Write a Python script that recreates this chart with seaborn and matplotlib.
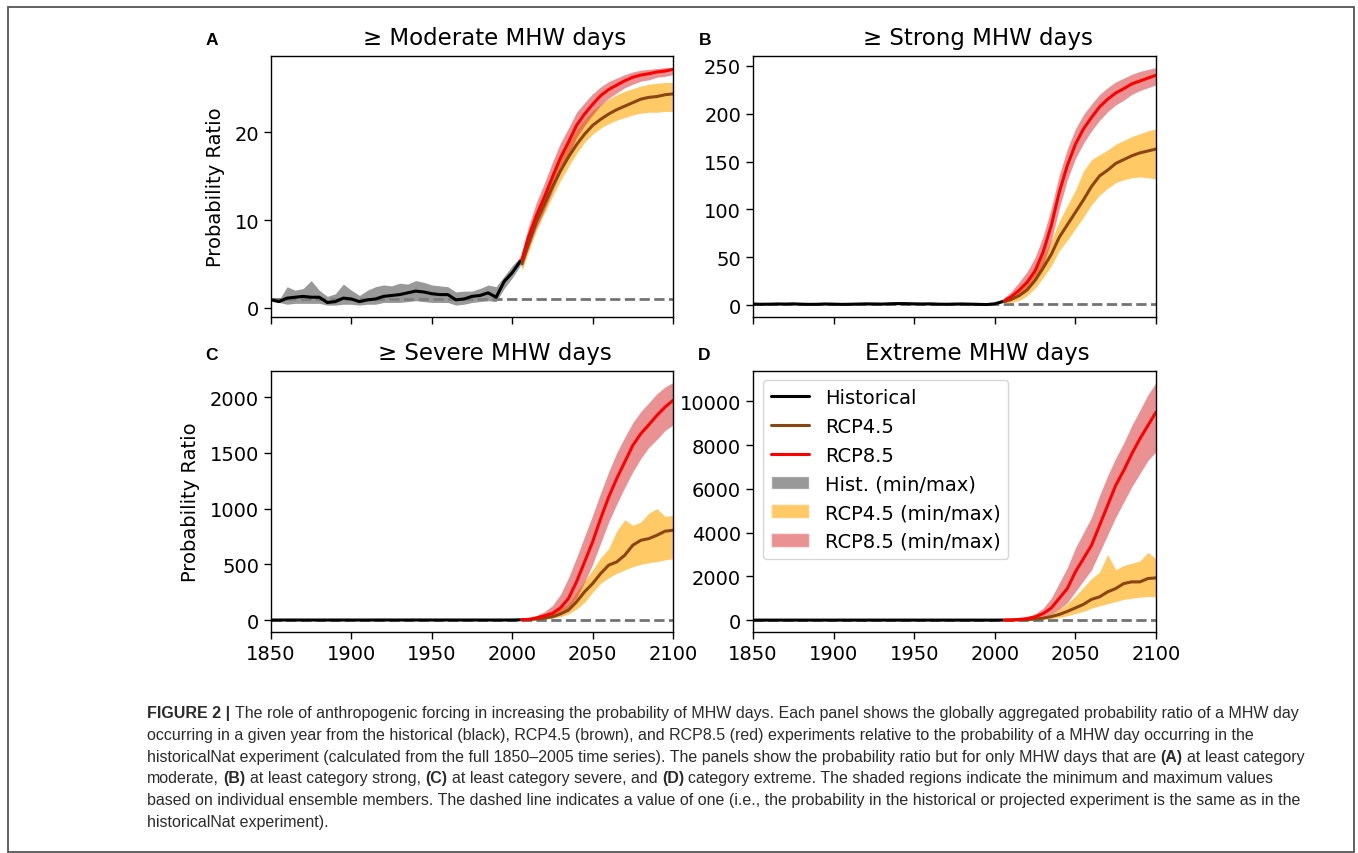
import matplotlib
matplotlib.use('Agg')
import matplotlib.pyplot as plt
from matplotlib.lines import Line2D
from matplotlib.patches import Patch, Rectangle
import seaborn as sns

# ---- data ----
hist_years = [1850, 1855, 1860, 1865, 1870, 1875, 1880, 1885, 1890, 1895, 1900,
              1905, 1910, 1915, 1920, 1925, 1930, 1935, 1940, 1945, 1950, 1955,
              1960, 1965, 1970, 1975, 1980, 1985, 1990, 1995, 2000, 2005]
rcp_years = [2006, 2010, 2015, 2020, 2025, 2030, 2035, 2040, 2045, 2050,
             2055, 2060, 2065, 2070, 2075, 2080, 2085, 2090, 2095, 2100]

# (A) >= moderate
mod_hist = [0.9, 0.7, 1.1, 1.2, 1.3, 1.2, 1.2, 0.6, 0.7, 1.1, 1.0, 0.7, 0.9, 1.0, 1.3, 1.4,
            1.5, 1.7, 1.9, 1.8, 1.6, 1.5, 1.5, 0.9, 1.0, 1.3, 1.4, 1.7, 1.2, 3.0, 4.0, 5.3]
mod_hist_lo = [0.9, 0.6, 0.4, 0.5, 0.5, 0.5, 0.5, 0.3, 0.3, 0.4, 0.4, 0.3, 0.4, 0.4, 0.6, 0.6,
               0.6, 0.7, 0.8, 0.7, 0.6, 0.6, 0.6, 0.3, 0.4, 0.6, 0.7, 0.8, 0.7, 2.2, 3.4, 4.8]
mod_hist_hi = [0.9, 0.9, 2.4, 2.0, 2.2, 3.1, 2.0, 1.3, 1.6, 2.7, 2.0, 1.4, 2.0, 2.4, 2.6, 2.5,
               2.8, 2.7, 3.1, 2.9, 2.6, 2.5, 2.4, 1.8, 1.9, 1.9, 2.2, 2.6, 2.4, 3.6, 4.8, 5.8]
mod_r45 = [5.0, 7.2, 9.8, 11.8, 13.8, 15.6, 17.2, 18.6, 19.8, 20.8,
           21.5, 22.1, 22.6, 23.0, 23.4, 23.8, 24.0, 24.1, 24.3, 24.4]
mod_r45_lo = [4.2, 6.3, 8.8, 10.8, 12.7, 14.5, 16.1, 17.6, 18.9, 19.8,
              20.5, 21.0, 21.4, 21.7, 22.0, 22.2, 22.3, 22.3, 22.4, 22.4]
mod_r45_hi = [5.9, 8.4, 11.2, 13.3, 15.3, 17.1, 18.8, 20.3, 21.5, 22.5,
              23.2, 23.8, 24.3, 24.7, 25.0, 25.3, 25.5, 25.6, 25.7, 25.7]
mod_r85 = [5.5, 8.0, 10.5, 12.6, 14.9, 17.1, 18.9, 20.8, 22.1, 23.2,
           24.2, 24.9, 25.4, 25.9, 26.3, 26.55, 26.7, 26.9, 27.0, 27.2]
mod_r85_lo = [4.6, 6.7, 9.1, 11.1, 13.3, 15.5, 17.4, 19.4, 20.8, 22.0,
              23.1, 23.9, 24.5, 25.1, 25.5, 25.85, 26.0, 26.3, 26.4, 26.6]
mod_r85_hi = [6.3, 9.2, 12.0, 14.2, 16.6, 18.8, 20.5, 22.3, 23.4, 24.4,
              25.2, 25.8, 26.2, 26.6, 26.9, 27.1, 27.2, 27.3, 27.4, 27.4]

# (B) >= strong
str_hist = [1.3, 1.1, 1.2, 1.4, 1.3, 1.5, 1.2, 1.0, 1.1, 1.4, 1.2, 1.0, 1.1, 1.3, 1.5, 1.4,
            1.3, 1.6, 1.8, 1.7, 1.5, 1.4, 1.5, 1.2, 1.1, 1.3, 1.4, 1.2, 1.0, 0.8, 1.6, 4.0]
str_hist_lo = [1.3, 0.5, 0.4, 0.5, 0.4, 0.6, 0.4, 0.3, 0.3, 0.5, 0.4, 0.3, 0.3, 0.4, 0.6, 0.5,
               0.5, 0.6, 0.7, 0.7, 0.6, 0.5, 0.6, 0.4, 0.3, 0.5, 0.5, 0.4, 0.3, 0.2, 0.8, 3.0]
str_hist_hi = [1.3, 2.4, 2.6, 3.0, 2.7, 3.1, 2.6, 2.2, 2.4, 2.9, 2.6, 2.2, 2.4, 2.8, 3.1, 2.9,
               2.8, 3.3, 3.6, 3.4, 3.1, 2.9, 3.1, 2.6, 2.4, 2.8, 2.9, 2.6, 2.2, 1.9, 3.0, 5.5]
str_r45 = [4, 6, 10, 16, 26, 39, 53, 71, 84, 97,
           110, 124, 135, 141, 148, 152, 156, 159, 161, 163]
str_r45_lo = [2, 3, 5, 10, 18, 29, 41, 57, 68, 80,
              92, 105, 115, 122, 128, 131, 133, 134, 133, 132]
str_r45_hi = [7, 11, 17, 25, 36, 51, 67, 88, 104, 120,
              140, 152, 157, 162, 168, 172, 176, 179, 182, 184]
str_r85 = [5, 8.7, 15.6, 24, 36, 55.6, 83, 118, 146, 168,
           184, 196, 207, 215, 221.5, 226, 231, 234, 237, 240]
str_r85_lo = [3, 5, 10, 16, 26, 42, 67, 101, 131, 153,
              169, 182, 193, 202, 209, 214, 220, 224, 227, 230]
str_r85_hi = [8, 14, 24, 35, 50, 72, 101, 136, 163, 184,
              199, 210, 220, 227, 233, 237, 241, 244, 246, 248]

# (C) >= severe
sev_hist = [1.0, 1.0, 1.1, 1.1, 1.0, 1.1, 1.0, 0.9, 1.0, 1.1, 1.0, 0.9, 1.0, 1.1, 1.2, 1.1,
            1.1, 1.2, 1.3, 1.2, 1.1, 1.1, 1.2, 1.0, 1.0, 1.1, 1.1, 1.0, 0.9, 0.8, 1.3, 3.0]
sev_hist_lo = [1.0, 0.3, 0.3, 0.3, 0.2, 0.3, 0.2, 0.2, 0.2, 0.3, 0.2, 0.2, 0.2, 0.3, 0.3, 0.3,
               0.3, 0.3, 0.4, 0.3, 0.3, 0.3, 0.3, 0.2, 0.2, 0.3, 0.3, 0.2, 0.2, 0.1, 0.5, 1.8]
sev_hist_hi = [1.0, 2.5, 2.8, 3.0, 2.6, 3.1, 2.7, 2.3, 2.6, 3.0, 2.7, 2.3, 2.6, 3.0, 3.3, 3.0,
               3.0, 3.4, 3.8, 3.5, 3.1, 3.0, 3.3, 2.7, 2.6, 3.0, 3.1, 2.8, 2.4, 2.1, 3.4, 6.0]
sev_r45 = [3, 5, 10, 18, 30, 55, 90, 164, 254, 328,
           418, 493, 522, 582, 672, 716, 731, 761, 797, 806]
sev_r45_lo = [2, 3, 5, 10, 18, 30, 55, 100, 160, 250,
              330, 380, 420, 450, 480, 500, 515, 525, 540, 550]
sev_r45_hi = [6, 9, 18, 35, 60, 100, 150, 254, 350, 450,
              560, 640, 800, 900, 850, 880, 960, 1000, 930, 940]
sev_r85 = [5, 6, 20, 39, 60, 110, 194, 343, 522, 701,
           910, 1104, 1269, 1418, 1567, 1672, 1752, 1836, 1910, 1970]
sev_r85_lo = [3, 4, 10, 20, 35, 60, 110, 200, 340, 500,
              690, 880, 1040, 1190, 1330, 1450, 1550, 1620, 1700, 1750]
sev_r85_hi = [8, 15, 40, 75, 130, 230, 380, 560, 750, 940,
              1140, 1330, 1500, 1640, 1770, 1870, 1950, 2030, 2090, 2130]

# (D) extreme
ext_hist = [1.0, 1.0, 1.0, 1.1, 1.0, 1.0, 1.0, 0.9, 1.0, 1.0, 1.0, 0.9, 1.0, 1.0, 1.1, 1.1,
            1.0, 1.1, 1.2, 1.1, 1.1, 1.0, 1.1, 1.0, 1.0, 1.0, 1.1, 1.0, 0.9, 0.8, 1.2, 3.0]
ext_hist_lo = [1.0, 0.2, 0.2, 0.3, 0.2, 0.2, 0.2, 0.1, 0.2, 0.2, 0.2, 0.1, 0.2, 0.2, 0.3, 0.3,
               0.2, 0.3, 0.3, 0.3, 0.3, 0.2, 0.3, 0.2, 0.2, 0.2, 0.3, 0.2, 0.1, 0.1, 0.4, 1.5]
ext_hist_hi = [1.0, 3.0, 3.2, 3.5, 3.0, 3.1, 3.2, 2.6, 3.0, 3.2, 3.1, 2.7, 3.0, 3.2, 3.6, 3.5,
               3.2, 3.6, 4.0, 3.7, 3.5, 3.2, 3.6, 3.1, 3.0, 3.2, 3.5, 3.1, 2.7, 2.4, 3.8, 7.0]
ext_r45 = [3, 5, 12, 25, 50, 90, 160, 260, 400, 560,
           720, 950, 1065, 1293, 1445, 1673, 1749, 1749, 1901, 1931]
ext_r45_lo = [1, 2, 5, 10, 20, 40, 70, 120, 200, 300,
              400, 550, 650, 750, 850, 950, 1000, 1050, 1080, 1065]
ext_r45_hi = [6, 10, 25, 50, 100, 180, 300, 500, 750, 1100,
              1500, 1900, 2200, 3000, 2300, 2500, 2600, 2700, 3100, 2800]
ext_r85 = [5, 10, 30, 70, 150, 300, 550, 1000, 1445, 2205,
           2814, 3422, 4335, 5247, 6160, 6844, 7605, 8289, 8897, 9506]
ext_r85_lo = [2, 5, 15, 35, 80, 150, 280, 500, 800, 1300,
              1800, 2300, 3100, 3900, 4700, 5400, 6100, 6700, 7300, 7700]
ext_r85_hi = [10, 20, 60, 140, 280, 550, 1000, 1700, 2400, 3300,
              4000, 4700, 5700, 6600, 7400, 8100, 8900, 9600, 10300, 10860]

panel_titles = ['\u2265 Moderate MHW days', '\u2265 Strong MHW days',
                '\u2265 Severe MHW days', 'Extreme MHW days']
panel_letters = ['A', 'B', 'C', 'D']
legend_labels = ['Historical', 'RCP4.5', 'RCP8.5',
                 'Hist. (min/max)', 'RCP4.5 (min/max)', 'RCP8.5 (min/max)']

caption_lines = [
    [('FIGURE 2 |', True),
     (' The role of anthropogenic forcing in increasing the probability of MHW days. Each panel shows the globally aggregated probability ratio of a MHW day', False)],
    [('occurring in a given year from the historical (black), RCP4.5 (brown), and RCP8.5 (red) experiments relative to the probability of a MHW day occurring in the', False)],
    [('historicalNat experiment (calculated from the full 1850\u20132005 time series). The panels show the probability ratio but for only MHW days that are', False),
     (' (A)', True), (' at least category', False)],
    [('moderate,', False), (' (B)', True), (' at least category strong,', False), (' (C)', True),
     (' at least category severe, and', False), (' (D)', True),
     (' category extreme. The shaded regions indicate the minimum and maximum values', False)],
    [('based on individual ensemble members. The dashed line indicates a value of one (i.e., the probability in the historical or projected experiment is the same as in the', False)],
    [('historicalNat experiment).', False)],
]

# ---- style ----
sns.set_style('ticks')
plt.rcParams['font.family'] = ['DejaVu Sans']
plt.rcParams['axes.edgecolor'] = 'black'
plt.rcParams['axes.linewidth'] = 1.0
plt.rcParams['xtick.color'] = 'black'
plt.rcParams['ytick.color'] = 'black'
plt.rcParams['text.color'] = 'black'
plt.rcParams['axes.labelcolor'] = 'black'

C_HIST = 'black'
C_R45 = 'saddlebrown'
C_R85 = 'red'
F_HIST = ('gray', 0.8)
F_R45 = ('orange', 0.6)
F_R85 = ('tab:red', 0.5)

W, H = 1358, 854
fig = plt.figure(figsize=(W / 100, H / 100), dpi=100)


def px_axes(left, top, right, bottom):
    return fig.add_axes([left / W, 1 - bottom / H, (right - left) / W, (bottom - top) / H])


def draw_panel(ax, series):
    (h, h_lo, h_hi, a, a_lo, a_hi, b, b_lo, b_hi) = series
    ax.axhline(1, color='0.45', ls='--', lw=2, zorder=0.5)
    ax.fill_between(hist_years, h_lo, h_hi, color=F_HIST[0], alpha=F_HIST[1], lw=0)
    ax.fill_between(rcp_years, a_lo, a_hi, color=F_R45[0], alpha=F_R45[1], lw=0)
    ax.fill_between(rcp_years, b_lo, b_hi, color=F_R85[0], alpha=F_R85[1], lw=0)
    sns.lineplot(x=hist_years, y=h, color=C_HIST, lw=2.2, ax=ax)
    sns.lineplot(x=rcp_years, y=a, color=C_R45, lw=2.2, ax=ax)
    sns.lineplot(x=rcp_years, y=b, color=C_R85, lw=2.2, ax=ax)
    ax.set_xlim(1850, 2100)
    ax.set_xticks([1850, 1900, 1950, 2000, 2050, 2100])
    ax.tick_params(labelsize=14, length=5, width=1)
    ax.set_xlabel('')
    ax.set_ylabel('')


axA = px_axes(271, 56.7, 673, 318)
axB = px_axes(753, 56.7, 1156, 318)
axC = px_axes(271, 371.7, 673, 633)
axD = px_axes(753, 371.7, 1156, 633)
axes = [axA, axB, axC, axD]

draw_panel(axA, (mod_hist, mod_hist_lo, mod_hist_hi, mod_r45, mod_r45_lo, mod_r45_hi,
                 mod_r85, mod_r85_lo, mod_r85_hi))
draw_panel(axB, (str_hist, str_hist_lo, str_hist_hi, str_r45, str_r45_lo, str_r45_hi,
                 str_r85, str_r85_lo, str_r85_hi))
draw_panel(axC, (sev_hist, sev_hist_lo, sev_hist_hi, sev_r45, sev_r45_lo, sev_r45_hi,
                 sev_r85, sev_r85_lo, sev_r85_hi))
draw_panel(axD, (ext_hist, ext_hist_lo, ext_hist_hi, ext_r45, ext_r45_lo, ext_r45_hi,
                 ext_r85, ext_r85_lo, ext_r85_hi))

axA.set_yticks([0, 10, 20])
axB.set_yticks([0, 50, 100, 150, 200, 250])
axC.set_yticks([0, 500, 1000, 1500, 2000])
axD.set_yticks([0, 2000, 4000, 6000, 8000, 10000])
for ax in (axA, axB):
    ax.tick_params(labelbottom=False)
for ax in (axA, axC):
    ax.set_ylabel('Probability Ratio', fontsize=14, labelpad=7)

# titles sit a little right of centre in the original
for ax, title in zip(axes, panel_titles):
    ax.text(0.557, 1 + 11.7 / 261.3, title, transform=ax.transAxes,
            ha='center', va='baseline', fontsize=16.5)

# panel letters
for (x, y), letter in zip([(206, 45), (699, 45), (205, 360), (698, 360)], panel_letters):
    fig.text(x / W, 1 - y / H, letter, ha='left', va='baseline',
             family='Liberation Sans', fontweight='bold', fontsize=12.5)

# legend in panel D
handles = [Line2D([], [], color=C_HIST, lw=2.2),
           Line2D([], [], color=C_R45, lw=2.2),
           Line2D([], [], color=C_R85, lw=2.2),
           Patch(facecolor=F_HIST[0], alpha=F_HIST[1]),
           Patch(facecolor=F_R45[0], alpha=F_R45[1]),
           Patch(facecolor=F_R85[0], alpha=F_R85[1])]
axD.legend(handles, legend_labels, loc='upper left', fontsize=14)

# caption + frame on an overlay axes in pixel space
cap = fig.add_axes([0, 0, 1, 1])
cap.set_xlim(0, W)
cap.set_ylim(H, 0)
cap.axis('off')
cap.add_patch(Rectangle((8, 8), 1346, 845, fill=False, ec='#555555', lw=1.3))

CAP_SIZE = 11.5
CAP_COLOR = '#2b2b2b'
baselines = [718, 740, 762, 783.5, 805, 827]
for y, parts in zip(baselines, caption_lines):
    prev = None
    for txt, bold in parts:
        kw = dict(fontsize=CAP_SIZE, family='Liberation Sans', color=CAP_COLOR,
                  fontweight='bold' if bold else 'normal')
        if prev is None:
            prev = cap.text(147, y, txt, ha='left', va='baseline', **kw)
        else:
            gap = 0.278 * CAP_SIZE if txt.startswith(' ') else 0
            prev = cap.annotate(txt.lstrip(' '), xy=(1, 0), xycoords=prev,
                                xytext=(gap, 0), textcoords='offset points',
                                ha='left', va='bottom', **kw)

fig.savefig('out.png', dpi=100)
